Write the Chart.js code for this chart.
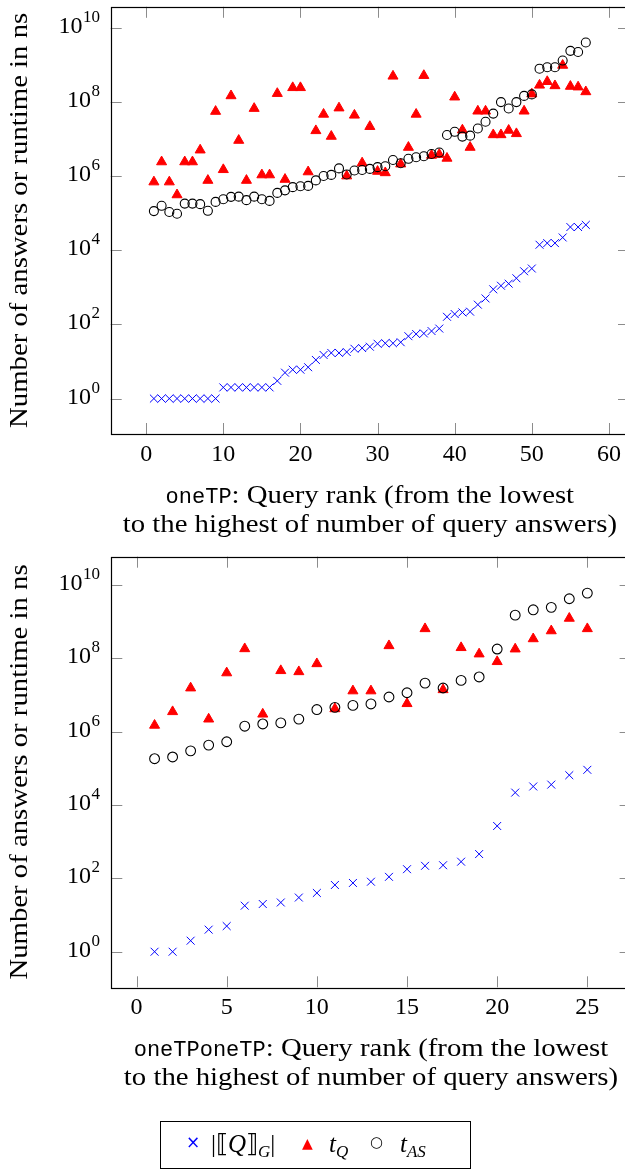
<!DOCTYPE html>
<html>
<head>
<meta charset="utf-8">
<script src="https://cdn.jsdelivr.net/npm/chart.js@4.4.1/dist/chart.umd.min.js"></script>
<style>
  html, body { margin: 0; padding: 0; background: #fff; width: 625px; height: 1170px; overflow: hidden; }
  canvas { position: absolute; left: 0; }
  #chartTop { top: 0; }
  #chartBottom { top: 548px; }
  #legend { position: absolute; left: 160px; top: 1121px; width: 309px; height: 46px; border: 1px solid #000;
            font-family: "Liberation Serif", serif; font-size: 25px; }
  #legend span { position: absolute; white-space: nowrap; line-height: 1; }
  #legend sub { font-size: 17px; vertical-align: -5px; }
</style>
</head>
<body>
<canvas id="chartTop" width="640" height="548"></canvas>
<canvas id="chartBottom" width="640" height="622"></canvas>
<div id="legend">
  <span style="left:25px; top:12px; color:#0000ff; font-size:17px; font-family:'DejaVu Sans',sans-serif;">×</span>
  <span style="left:50px; top:9px;">|⟦<i>Q</i>⟧<sub><i>G</i></sub>|</span>
  <span style="left:141px; top:14px; color:#ff0000; font-size:14px; font-family:'DejaVu Sans',sans-serif;">▲</span>
  <span style="left:168px; top:9px;"><i>t</i><sub><i>Q</i></sub></span>
  <span style="left:209px; top:13px; font-size:15px; font-family:'DejaVu Sans',sans-serif;">○</span>
  <span style="left:239px; top:9px;"><i>t</i><sub><i>AS</i></sub></span>
</div>
<script>
// oneTP: query rank 1..57
const answersOneTP = [1, 1, 1, 1, 1, 1, 1, 1, 1, 2, 2, 2, 2, 2, 2, 2, 3, 5, 6, 6, 7, 11, 15, 17, 17, 18, 22, 23, 25,
    30, 31, 31, 33, 48, 55, 57, 66, 77, 160, 190, 210, 220, 340, 500, 880, 1100, 1250, 1750, 2700, 3200,
    14000, 15500, 15500, 22000, 42000, 42000, 48000];
const tQOneTP = [6.9e5, 2.4e6, 6.9e5, 3.1e5, 2.4e6, 2.4e6, 5e6, 7.6e5, 5.5e7, 1.48e6, 1.45e8, 9.1e6, 7.6e5, 6.6e7,
    1.07e6, 1.07e6, 1.67e8, 8.1e5, 2.4e8, 2.4e8, 1.29e6, 1.66e7, 4.6e7, 1.17e7, 6.8e7, 1e6, 4.35e7, 2.24e6,
    2.15e7, 1.33e6, 1.22e6, 4.9e8, 2.1e6, 5.9e6, 4.6e7, 5.1e8, 3.6e6, 3.8e6, 3e6, 1.34e8, 1.73e7, 5.9e6,
    5.6e7, 5.6e7, 1.29e7, 1.29e7, 1.7e7, 1.38e7, 5.6e7, 1.62e8, 2.8e8, 3.5e8, 2.7e8, 9.6e8, 2.6e8, 2.5e8, 1.86e8];
const tASOneTP = [1.13e5, 1.57e5, 1.07e5, 9.6e4, 1.8e5, 1.8e5, 1.74e5, 1.15e5, 2e5, 2.36e5, 2.74e5, 2.77e5, 2.23e5,
    2.77e5, 2.36e5, 2.13e5, 3.5e5, 4.1e5, 5e5, 5.3e5, 5.4e5, 7.6e5, 1e6, 1.07e6, 1.6e6, 1.1e6, 1.4e6, 1.45e6,
    1.55e6, 1.73e6, 1.83e6, 2.7e6, 2.2e6, 2.9e6, 3.2e6, 3.4e6, 3.9e6, 4.3e6, 1.27e7, 1.55e7, 1.15e7, 1.22e7,
    1.9e7, 2.9e7, 4.8e7, 9.8e7, 6.6e7, 9.8e7, 1.44e8, 1.58e8, 7.8e8, 8.5e8, 8.5e8, 1.29e9, 2.36e9, 2.2e9, 3.97e9];

// oneTPoneTP: query rank 1..25
const answersOneTPoneTP = [1, 1, 2, 4, 5, 18, 20, 22, 30, 40, 66, 75, 81, 110, 178, 220, 228, 285, 460, 2680,
    21800, 32000, 36000, 65000, 91000];
const tQOneTPoneTP = [1.49e6, 3.5e6, 1.55e7, 2.2e6, 4e7, 1.82e8, 3e6, 4.6e7, 4.3e7, 7.1e7, 4.2e6, 1.29e7, 1.29e7,
    2.2e8, 5.8e6, 6.4e8, 1.39e7, 1.95e8, 1.31e8, 8.1e7, 1.79e8, 3.4e8, 5.6e8, 1.23e9, 6.4e8];
const tASOneTPoneTP = [1.83e5, 2.04e5, 3.0e5, 4.3e5, 5.3e5, 1.41e6, 1.62e6, 1.73e6, 2.2e6, 4e6, 4.6e6, 5.2e6, 5.7e6,
    8.8e6, 1.15e7, 2.1e7, 1.55e7, 2.5e7, 3.1e7, 1.79e8, 1.5e9, 2.1e9, 2.45e9, 4.2e9, 6.0e9];

const xTicksTop = [0, 10, 20, 30, 40, 50, 60];
const xTicksBottom = [0, 5, 10, 15, 20, 25];
const yTicks = [1, 1e2, 1e4, 1e6, 1e8, 1e10];

const SERIF = '"Liberation Serif", "Times New Roman", serif';
const MONO = '"Liberation Mono", "DejaVu Sans Mono", monospace';
const STRETCH = 1.15; // closer to Computer Modern widths
const TICK_LEN = 11;
const Y_LABEL = 'Number of answers or runtime in ns';

const toPoints = vals => vals.map((v, i) => ({ x: i + 1, y: v }));

const pgfAxes = {
    id: 'pgfAxes',
    afterDraw(chart, args, opts) {
        const ctx = chart.ctx;
        const { left, right, top, bottom } = chart.chartArea;
        const xs = chart.scales.x, ys = chart.scales.y;
        ctx.save();

        // inward ticks on all four sides
        ctx.strokeStyle = 'rgba(0,0,0,0.45)';
        ctx.lineWidth = 1;
        ctx.beginPath();
        xs.ticks.forEach(t => {
            const px = Math.round(xs.getPixelForValue(t.value)) + 0.5;
            ctx.moveTo(px, bottom); ctx.lineTo(px, bottom - TICK_LEN);
            ctx.moveTo(px, top); ctx.lineTo(px, top + TICK_LEN);
        });
        ys.ticks.forEach(t => {
            const py = Math.round(ys.getPixelForValue(t.value)) + 0.5;
            ctx.moveTo(left, py); ctx.lineTo(left + TICK_LEN, py);
            ctx.moveTo(right, py); ctx.lineTo(right - TICK_LEN, py);
        });
        ctx.stroke();

        // frame
        ctx.strokeStyle = '#000';
        ctx.lineWidth = 1.2;
        ctx.strokeRect(Math.round(left) + 0.5, Math.round(top) + 0.5,
            Math.round(right - left), Math.round(bottom - top));

        ctx.fillStyle = '#000';
        ctx.textBaseline = 'alphabetic';

        // x tick labels
        ctx.font = `24px ${SERIF}`;
        ctx.textAlign = 'center';
        xs.ticks.forEach(t => ctx.fillText(String(t.value), xs.getPixelForValue(t.value), bottom + 27));

        // y tick labels 10^n
        ys.ticks.forEach(t => {
            const py = ys.getPixelForValue(t.value);
            const exp = String(Math.round(Math.log10(t.value)));
            ctx.textAlign = 'right';
            ctx.font = `17px ${SERIF}`;
            ctx.fillText(exp, 100, py - 6);
            const w = ctx.measureText(exp).width;
            ctx.font = `24px ${SERIF}`;
            ctx.fillText('10', 100 - w - 0.5, py + 5);
        });

        // y title
        ctx.save();
        ctx.translate(27, (top + bottom) / 2);
        ctx.rotate(-Math.PI / 2);
        ctx.scale(STRETCH, 1);
        ctx.font = `25px ${SERIF}`;
        ctx.textAlign = 'center';
        ctx.fillText(Y_LABEL, 0, 0);
        ctx.restore();

        // x title, two lines, first starts with the dataset name in typewriter
        const cx = (left + right) / 2;
        ctx.textAlign = 'left';
        ctx.font = `22px ${MONO}`;
        const wCode = ctx.measureText(opts.code).width;
        ctx.font = `25px ${SERIF}`;
        const wRest = ctx.measureText(opts.line1).width * STRETCH;
        const x0 = cx - (wCode + wRest) / 2;
        ctx.font = `22px ${MONO}`;
        ctx.fillText(opts.code, x0, bottom + 69);
        ctx.save();
        ctx.translate(x0 + wCode, bottom + 69);
        ctx.scale(STRETCH, 1);
        ctx.font = `25px ${SERIF}`;
        ctx.fillText(opts.line1, 0, 0);
        ctx.restore();
        ctx.save();
        ctx.translate(cx, bottom + 98);
        ctx.scale(STRETCH, 1);
        ctx.font = `25px ${SERIF}`;
        ctx.textAlign = 'center';
        ctx.fillText(opts.line2, 0, 0);
        ctx.restore();

        ctx.restore();
    }
};

function makeChart(id, answers, tQ, tAS, xTicks, xMin, xMax, yMin, yMax, area, code, circleR) {
    const canvas = document.getElementById(id);
    return new Chart(canvas.getContext('2d'), {
        type: 'scatter',
        data: {
            datasets: [{
                label: '|[[Q]]G|',
                data: toPoints(answers),
                pointStyle: 'crossRot',
                pointRadius: 5.6,
                borderColor: '#0000ff',
                borderWidth: 1,
                order: 3
            }, {
                label: 'tQ',
                data: toPoints(tQ),
                pointStyle: 'triangle',
                pointRadius: 5.8,
                backgroundColor: '#ff0000',
                borderColor: '#ff0000',
                borderWidth: 1,
                order: 2
            }, {
                label: 'tAS',
                data: toPoints(tAS),
                pointStyle: 'circle',
                pointRadius: circleR,
                backgroundColor: 'rgba(0,0,0,0)',
                borderColor: '#000',
                borderWidth: 1.1,
                order: 1
            }]
        },
        options: {
            responsive: false,
            animation: false,
            devicePixelRatio: 1,
            layout: {
                padding: { left: area.left, top: area.top, right: canvas.width - area.right, bottom: canvas.height - area.bottom }
            },
            scales: {
                x: {
                    type: 'linear', min: xMin, max: xMax,
                    grid: { display: false }, border: { display: false },
                    ticks: { display: false },
                    afterBuildTicks: s => { s.ticks = xTicks.map(v => ({ value: v })); },
                    afterFit: s => { s.height = 0; }
                },
                y: {
                    type: 'logarithmic', min: yMin, max: yMax,
                    grid: { display: false }, border: { display: false },
                    ticks: { display: false },
                    afterBuildTicks: s => { s.ticks = yTicks.map(v => ({ value: v })); },
                    afterFit: s => { s.width = 0; }
                }
            },
            plugins: {
                legend: { display: false },
                tooltip: { enabled: false },
                pgfAxes: {
                    code: code,
                    line1: ': Query rank (from the lowest',
                    line2: 'to the highest of number of query answers)'
                }
            }
        },
        plugins: [pgfAxes]
    });
}

makeChart('chartTop', answersOneTP, tQOneTP, tASOneTP, xTicksTop, -4.6, 62.6,
    Math.pow(10, -0.955), Math.pow(10, 10.56),
    { left: 110.7, top: 3.3, right: 629, bottom: 434 }, 'oneTP', 4.5);

makeChart('chartBottom', answersOneTPoneTP, tQOneTPoneTP, tASOneTPoneTP, xTicksBottom, -1.4, 27.4,
    Math.pow(10, -0.97), Math.pow(10, 10.77),
    { left: 111.3, top: 8.7, right: 630.6, bottom: 439.3 }, 'oneTPoneTP', 4.9);
</script>
</body>
</html>
